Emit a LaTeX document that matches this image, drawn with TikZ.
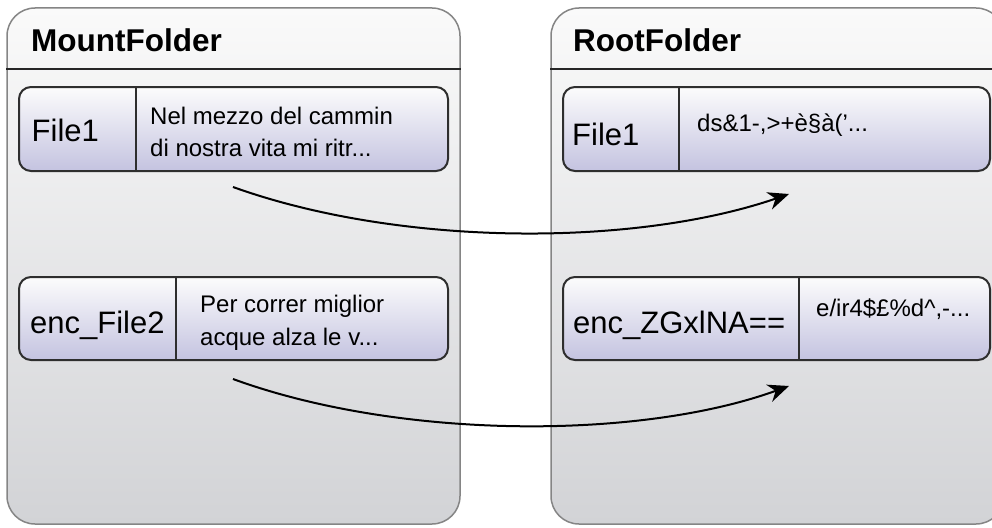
\documentclass[tikz,border=0pt]{standalone}
\usepackage{fontspec}
\setmainfont{Liberation Sans}
\usetikzlibrary{arrows.meta}

\definecolor{foldertop}{HTML}{FAFAFA}
\definecolor{folderbot}{HTML}{D2D3D6}
\definecolor{folderline}{HTML}{858585}
\definecolor{boxtop}{HTML}{FCFCFC}
\definecolor{boxbot}{HTML}{C4C3E0}
\definecolor{boxline}{HTML}{2E2E2E}

\begin{document}
\begin{tikzpicture}[x=1pt,y=-1pt,
  folder/.style={draw=folderline, line width=1.5pt, rounded corners=28pt,
    top color=foldertop, bottom color=folderbot,
    minimum width=453pt, minimum height=516pt, inner sep=0pt},
  filebox/.style={draw=boxline, line width=2pt, rounded corners=12pt,
    top color=boxtop, bottom color=boxbot, minimum height=84pt, inner sep=0pt},
  title/.style={anchor=base west, inner sep=0pt, font=\bfseries\fontsize{31.5}{36}\selectfont},
  fname/.style={anchor=base west, inner sep=0pt, font=\fontsize{31}{36}\selectfont},
  content/.style={anchor=base west, inner sep=0pt, align=left, font=\fontsize{24}{32.5}\selectfont},
  divider/.style={draw=boxline, line width=2pt},
  header/.style={draw=black!85, line width=2pt},
  flow/.style={draw=black, line width=2pt, -{Stealth[length=21pt,width=18pt]}}
]
\clip (0,0) rectangle (992,527);

% the two folders
\node[folder] (mount) at (233.5,266) {};
\node[folder] (root)  at (777.5,266) {};
\coordinate (hl) at (0,69);
\draw[header] (mount.west |- hl) -- (mount.east |- hl);
\draw[header] (root.west |- hl) -- (root.east |- hl);
\node[title] (mtitle) at (31,52) {MountFolder};
\node[title] (rtitle) at (573,52) {RootFolder};

% file entries
\node[filebox, minimum width=429pt] (lf1)  at (233.5,129) {};
\node[filebox, minimum width=427pt] (rf1)  at (776.5,129) {};
\node[filebox, minimum width=429pt, minimum height=83pt] (lenc) at (233.5,318.5) {};
\node[filebox, minimum width=427pt, minimum height=83pt] (renc) at (776.5,318.5) {};

\draw[divider] ([xshift=118pt]lf1.north west) -- ([xshift=118pt]lf1.south west);
\draw[divider] ([xshift=117pt]rf1.north west) -- ([xshift=117pt]rf1.south west);
\draw[divider] ([xshift=158pt]lenc.north west) -- ([xshift=158pt]lenc.south west);
\draw[divider] ([xshift=237pt]renc.north west) -- ([xshift=237pt]renc.south west);

% names and contents (a two-line node sits on the baseline of its last line)
\node[fname] (lf1name) at (31.5,141) {File1};
\node[content] (lf1text) at (150,156.5) {Nel mezzo del cammin\\di nostra vita mi ritr...};
\node[fname] (rf1name) at (572,145) {File1};
\node[content] (rf1text) at (697,131) {ds\&1-,>+è§à('...};

\node[fname] (lencname) at (30,333) {enc\_File2};
\node[content] (lenctext) at (200,345) {Per correr miglior\\acque alza le v...};
\node[fname] (rencname) at (573,333) {enc\_ZGxlNA==};
\node[content] (renctext) at (816,316) {e/ir4\$£\%d\textasciicircum,-...};

% mapping arrows
\coordinate (a1s) at (233,187);
\coordinate (a1e) at (789,194);
\coordinate (a2s) at (233,379);
\coordinate (a2e) at (789,386);
\draw[flow] (a1s) .. controls (400,247) and (635,247) .. (a1e);
\draw[flow] (a2s) .. controls (400,440) and (640,440) .. (a2e);
\end{tikzpicture}
\end{document}
